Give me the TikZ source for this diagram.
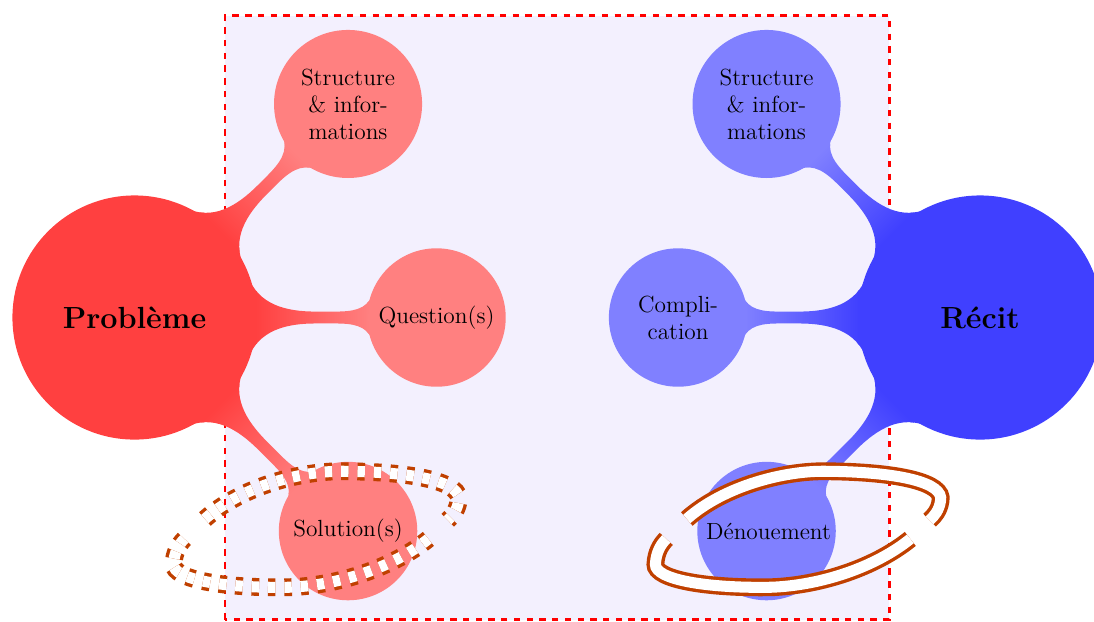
\documentclass[tikz,border=0pt]{standalone}
\usetikzlibrary{mindmap}
\definecolor{bgcol}{RGB}{243,240,254}
\definecolor{ringcol}{RGB}{192,64,0}
\tikzset{
  ringband/.style={draw=ringcol, line width=1.6pt, double=white, double distance=5.2pt},
  dashring/.style={ringband, dash pattern=on 3.5pt off 4.2pt},
  frame/.style={draw=red, dashed, very thick, fill=bgcol},
  rootfont/.style={font=\fontsize{14.4}{17}\selectfont\bfseries},
  childfont/.style={font=\fontsize{11}{12.7}\selectfont},
}
\begin{document}
\begin{tikzpicture}[mindmap, text=black]
\useasboundingbox (-2.227,-5.025) rectangle (15.886,5.257);
\draw[frame] (1.5,-5) rectangle (12.5,5);
\path[concept color=red!75]
  node[concept, rootfont] (P) at (0,0) {Problème}
  child[concept color=red!50, grow=45] {node[concept, childfont] (S1) {Structure\\\& infor-\\mations}}
  child[concept color=red!50, grow=0] {node[concept, childfont] (Q) {Question(s)}}
  child[concept color=red!50, grow=-45] {node[concept, childfont] (Sol) {Solution(s)}};
\path[concept color=blue!75]
  node[concept, rootfont] (R) at (14,0) {Récit}
  child[concept color=blue!50, grow=135] {node[concept, childfont] (S2) {Structure\\\& infor-\\mations}}
  child[concept color=blue!50, grow=180] {node[concept, childfont] (C) {Compli-\\cation}}
  child[concept color=blue!50, grow=225] {node[concept, childfont] (D) {Dénouement}};
\begin{scope}[shift={(Sol.center)}, xshift=-1.05cm]
  \draw[dashring] (-1.32,0.20) .. controls (-0.7,0.75) and (0.3,1.0) .. (0.98,0.99)
    .. controls (2.2,0.98) and (2.95,0.8) .. (2.88,0.5)
    .. controls (2.86,0.35) and (2.78,0.25) .. (2.70,0.18);
  \draw[dashring] (2.38,-0.13) .. controls (1.8,-0.6) and (0.9,-0.9) .. (0.08,-0.93)
    .. controls (-1.0,-0.95) and (-1.85,-0.8) .. (-1.84,-0.55)
    .. controls (-1.83,-0.35) and (-1.75,-0.22) .. (-1.66,-0.13);
\end{scope}
\begin{scope}[shift={(D.center)}]
  \draw[ringband] (-1.32,0.20) .. controls (-0.7,0.75) and (0.3,1.0) .. (0.98,0.99)
    .. controls (2.2,0.98) and (2.95,0.8) .. (2.88,0.5)
    .. controls (2.86,0.35) and (2.78,0.25) .. (2.70,0.18);
  \draw[ringband] (2.38,-0.13) .. controls (1.8,-0.6) and (0.9,-0.9) .. (0.08,-0.93)
    .. controls (-1.0,-0.95) and (-1.85,-0.8) .. (-1.84,-0.55)
    .. controls (-1.83,-0.35) and (-1.75,-0.22) .. (-1.66,-0.13);
\end{scope}
\end{tikzpicture}
\end{document}
